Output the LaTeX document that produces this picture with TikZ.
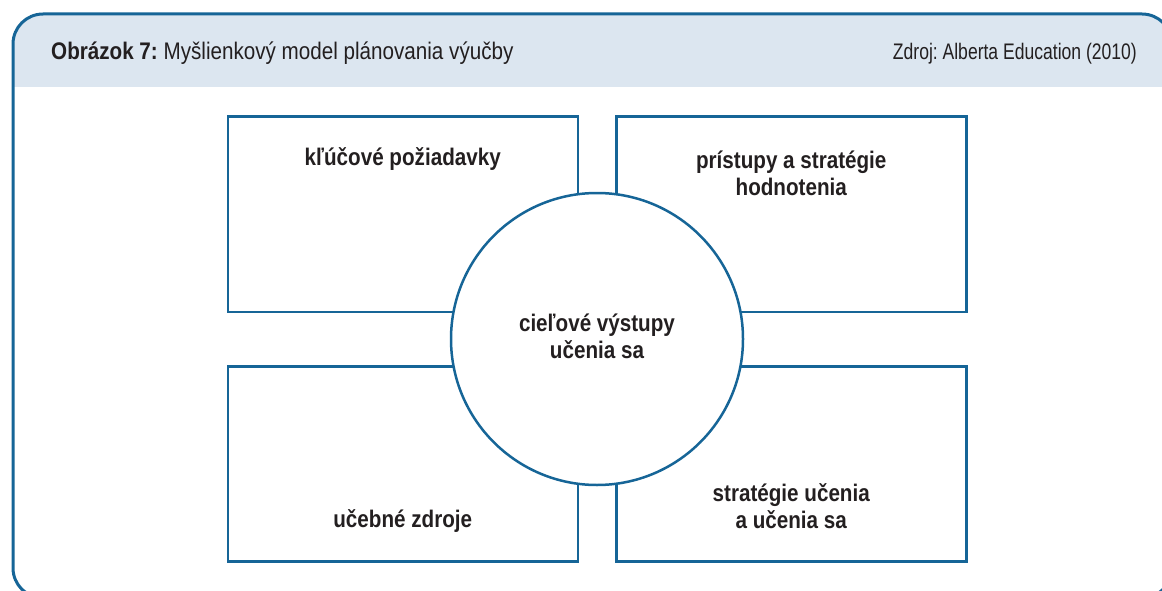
\documentclass[tikz,border=0pt]{standalone}
\usepackage{fontspec}
\setmainfont{Liberation Sans}[FakeStretch=0.86]
\newfontfamily\srcfont{Liberation Sans}[FakeStretch=0.78]
\usetikzlibrary{positioning,calc}
\definecolor{frameblue}{RGB}{22,101,151}
\definecolor{headblue}{RGB}{220,230,240}
\definecolor{inkgrey}{RGB}{35,31,32}
\frenchspacing

\begin{document}
\begin{tikzpicture}[x=1pt,y=-1pt,text=inkgrey,
font=\fontsize{24}{27}\selectfont,
quad/.style={draw=frameblue,line width=2.5pt,minimum width=350pt,
minimum height=195pt,inner sep=0pt},
hub/.style={circle,draw=frameblue,fill=white,line width=2.5pt,
minimum size=292pt,inner sep=0pt},
lbl/.style={align=center,inner sep=0pt,
font=\fontsize{24}{27}\selectfont\bfseries}]
\useasboundingbox (0,0) rectangle (1162,591);

% frame with header band
\begin{scope}
\clip[rounded corners=30pt] (13,14) rectangle (1172,598);
\fill[headblue] (13,14) rectangle (1172,87);
\end{scope}
\draw[frameblue,line width=3pt,rounded corners=30pt] (13,14) rectangle (1172,598);

\node[anchor=base west,inner sep=0pt] (Title) at (51,60)
{\textbf{Obrázok 7:} Myšlienkový model plánovania výučby};
\node[anchor=base east,inner sep=0pt,font=\srcfont\fontsize{22.5}{27}\selectfont]
(Source) at (1137,60) {Zdroj: Alberta Education (2010)};

% four boxes round the middle
\coordinate (Mid) at (597,339);

\node[quad] (KeyReq) [above left=26pt and 18pt of Mid] {};
\node[quad] (Assess) [above right=26pt and 18pt of Mid] {};
\node[quad] (Sources) [below left=26pt and 18pt of Mid] {};
\node[quad] (Methods) [below right=26pt and 18pt of Mid] {};

\node[hub] (Goal) at (Mid) {};

% labels (base = last line)
\node[lbl,anchor=base] (KeyReqText) at ([yshift=-50pt]KeyReq.north)
{kľúčové požiadavky};
\node[lbl,anchor=base] (AssessText) at ([yshift=-80pt]Assess.north)
{prístupy a stratégie\\hodnotenia};
\node[lbl,anchor=base] (GoalText) at ([yshift=-19pt]Goal.center)
{cieľové výstupy\\učenia sa};
\node[lbl,anchor=base] (SourcesText) at ([yshift=35pt]Sources.south)
{učebné zdroje};
\node[lbl,anchor=base] (MethodsText) at ([yshift=34pt]Methods.south)
{stratégie učenia\\a učenia sa};

\end{tikzpicture}
\end{document}
